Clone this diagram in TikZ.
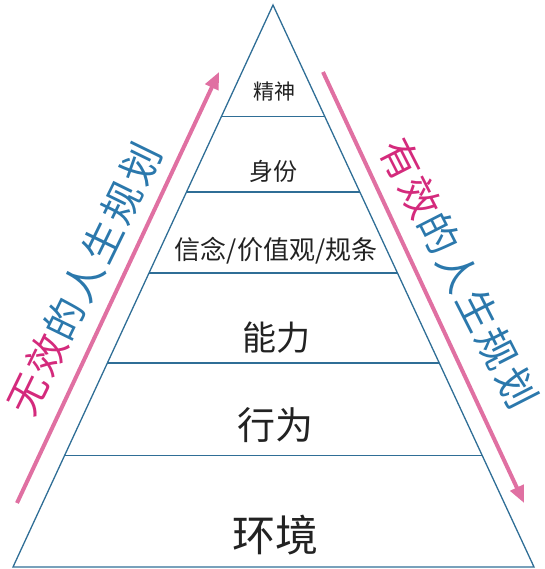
\documentclass[tikz,border=0pt]{standalone}
\usepackage{fontspec}
\setmainfont{Noto Sans CJK SC}
\usetikzlibrary{positioning, arrows.meta, calc}

\definecolor{edgeblue}{HTML}{2F6E96}
\definecolor{arrowpink}{HTML}{E070A2}
\definecolor{hotpink}{HTML}{D42A7C}
\definecolor{textblue}{HTML}{2B78AC}
\definecolor{inkgray}{HTML}{222222}

\begin{document}
\begin{tikzpicture}[
    x=1pt, y=-1pt,
    % Styles
    edge/.style={draw=edgeblue, line width=1.3pt},
    layer/.style={inner sep=0pt, text=inkgray},
    flow/.style={draw=arrowpink, line width=4pt, -{Triangle[length=17pt,width=14pt]}},
    side/.style={inner sep=0pt, font=\fontsize{40}{44}\selectfont\addfontfeatures{LetterSpace=8}}
    ]
    \useasboundingbox (0,0) rectangle (544,569);

    % 1. Pyramid outline
    \coordinate (apex) at (273,5);
    \coordinate (bl) at (13,567);
    \coordinate (br) at (534,567);
    \draw[edge] (apex) -- (bl) -- (br) -- cycle;

    % 2. Layer dividers
    \foreach \t in {0.199, 0.333, 0.477, 0.637, 0.801}
        \draw[edge] ($(apex)!\t!(bl)$) -- ($(apex)!\t!(br)$);

    % 3. Layer labels
    \node (spirit)  [layer, font=\fontsize{21}{24}\selectfont] at (274,92)  {精神};
    \node (ident)   [layer, font=\fontsize{24}{28}\selectfont] at (273,171) {身份};
    \node (belief)  [layer, font=\fontsize{26}{30}\selectfont] at (276,251) {信念/价值观/规条};
    \node (ability) [layer, font=\fontsize{34}{38}\selectfont] at (276,338) {能力};
    \node (action)  [layer, font=\fontsize{38}{42}\selectfont] at (275,425) {行为};
    \node (env)     [layer, font=\fontsize{43}{48}\selectfont] at (275,535) {环境};

    % 4. Side arrows
    \coordinate (upfrom) at (17,503);
    \coordinate (upto) at (219,72);
    \coordinate (downfrom) at (323,72);
    \coordinate (downto) at (524,503);
    \draw[flow] (upfrom) -- (upto);
    \draw[flow] (downfrom) -- (downto);

    % 5. Side captions
    \node (bad) [side, rotate=64] at (84,279)
        {\textcolor{hotpink}{无效}\textcolor{textblue}{的人生规划}};
    \node (good) [side, rotate=-63] at (459,273)
        {\textcolor{hotpink}{有效}\textcolor{textblue}{的人生规划}};
\end{tikzpicture}
\end{document}
